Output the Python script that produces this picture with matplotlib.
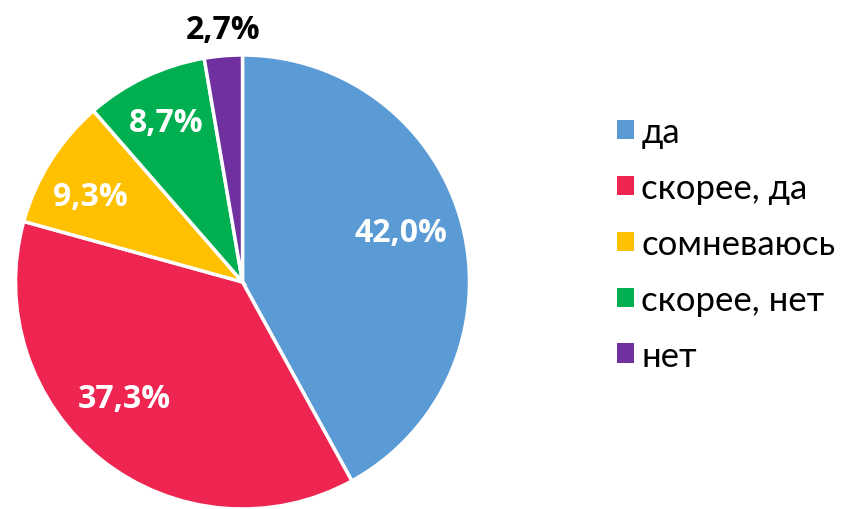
import numpy as np
import matplotlib.pyplot as plt
from matplotlib.patches import Patch

plt.rcParams['font.family'] = ['Lato', 'DejaVu Sans']

categories = ['да', 'скорее, да', 'сомневаюсь', 'скорее, нет', 'нет']
shares = [42.0, 37.3, 9.3, 8.7, 2.7]
pct_labels = ['42,0%', '37,3%', '9,3%', '8,7%', '2,7%']
colors = ['#5B9BD5', '#EE2551', '#FFC000', '#00B050', '#7030A0']

# label placement: radial distance (in radii) and angular nudge (deg)
label_r = [0.73, 0.73, 0.77, 0.78, 1.115]
label_dang = [3.0, -7.0, 3.0, 0.0, -0.5]
label_col = ['white', 'white', 'white', 'white', 'black']

fig = plt.figure(figsize=(8.49, 5.10), dpi=100)
ax = fig.add_axes([15.5 / 849, 0.0, 454 / 849, 454 / 510])
wedges, _ = ax.pie(shares, colors=colors, startangle=90, counterclock=False,
                   radius=1.0, wedgeprops=dict(edgecolor='white', linewidth=2.5))
ax.set_xlim(-1, 1)
ax.set_ylim(-1, 1)
ax.set_aspect('equal')
ax.axis('off')

for w, txt, r, da, c in zip(wedges, pct_labels, label_r, label_dang, label_col):
    ang = np.deg2rad((w.theta1 + w.theta2) / 2 + da)
    ax.text(r * np.cos(ang), r * np.sin(ang), txt, ha='center', va='center',
            fontsize=23, fontweight='bold', color=c, clip_on=False,
            family=['Open Sans', 'DejaVu Sans'])

handles = [Patch(facecolor=c, edgecolor='none') for c in colors]
fig.legend(handles, categories, loc='center left', bbox_to_anchor=(0.690, 0.52),
           frameon=False, fontsize=25, handlelength=0.5, handleheight=0.5,
           handletextpad=0.2, labelspacing=0.69)

fig.savefig('out.png', dpi=100)
